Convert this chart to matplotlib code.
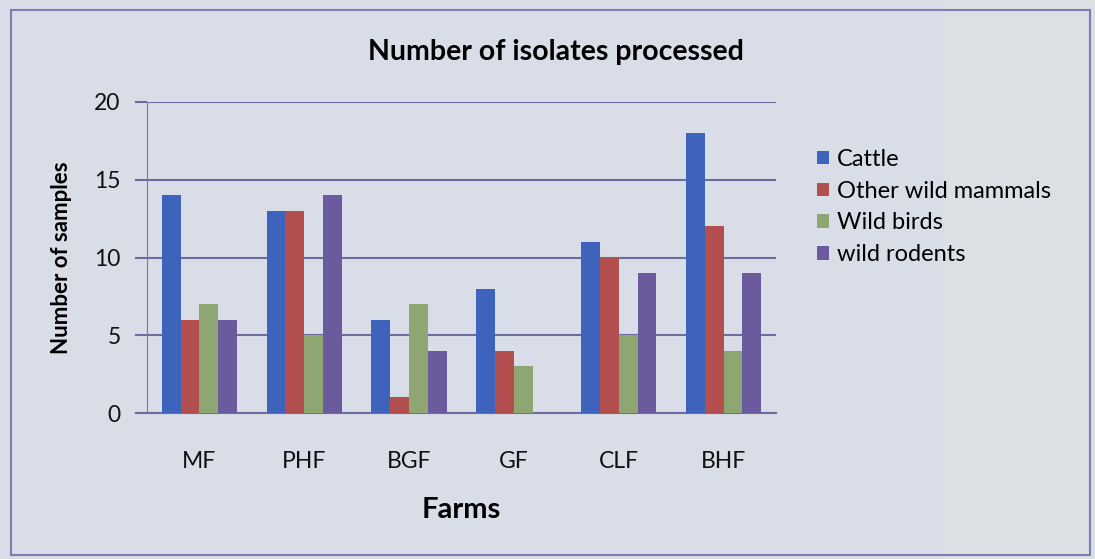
import numpy as np
import matplotlib.pyplot as plt
from matplotlib.patches import Rectangle

# isolates per farm and host group
farms = ['MF', 'PHF', 'BGF', 'GF', 'CLF', 'BHF']
cattle = [14, 13, 6, 8, 11, 18]
other_wild_mammals = [6, 13, 1, 4, 10, 12]
wild_birds = [7, 5, 7, 3, 5, 4]
wild_rodents = [6, 14, 4, 0, 9, 9]

series = [
    ('Cattle', cattle, '#3e63bd'),
    ('Other wild mammals', other_wild_mammals, '#b34f4e'),
    ('Wild birds', wild_birds, '#8ea772'),
    ('wild rodents', wild_rodents, '#6a5b9f'),
]

plt.rcParams['font.family'] = ['Lato', 'DejaVu Sans']

fig = plt.figure(figsize=(10.95, 5.59), dpi=100)
fig.patch.set_facecolor('#d9dde7')

# slightly lighter paper on the right edge
fig.patches.append(Rectangle((0.862, 0), 0.138, 1, transform=fig.transFigure,
                             facecolor='#dce0e4', edgecolor='none', zorder=-1))
# chart frame
fig.patches.append(Rectangle((11 / 1095, 4 / 559), 1079 / 1095, 545 / 559,
                             transform=fig.transFigure, facecolor='none',
                             edgecolor='#7b7fb2', linewidth=1.5, zorder=-1))

ax = fig.add_axes([147 / 1095, 1 - 413 / 559, 629 / 1095, 311 / 559])
ax.set_facecolor('none')
ax.set_zorder(2)

x = np.arange(len(farms))
w = 0.18
for i, (name, vals, col) in enumerate(series):
    ax.bar(x + (i - 1.5) * w, vals, width=w, color=col, label=name, zorder=3)

ax.set_xlim(-0.5, len(farms) - 0.5)
ax.set_ylim(0, 20)
ax.set_yticks([0, 5, 10, 15, 20])
ax.yaxis.grid(True, color='#6c6c9e', linewidth=1.5, zorder=1)
ax.set_axisbelow(True)

for s in ['top', 'right']:
    ax.spines[s].set_visible(False)
ax.spines['left'].set_color('#7a7aa8')
ax.spines['bottom'].set_color('#6c6c9e')
ax.spines['bottom'].set_linewidth(1.5)
ax.spines['bottom'].set_bounds(-0.57, len(farms) - 0.5)

ax.set_xticks(x)
ax.set_xticklabels(farms)
ax.tick_params(axis='x', length=0, pad=27, labelsize=16.5, colors='#111111')
ax.tick_params(axis='y', length=9, width=1.5, color='#6c6c9e', pad=10,
               labelsize=16.5, labelcolor='#111111')

ax.set_title('Number of isolates processed', fontsize=20.5, fontweight='bold',
             pad=30, x=0.65)
ax.set_xlabel('Farms', fontsize=21, fontweight='bold', labelpad=18)
ax.set_ylabel('Number of samples', fontsize=16, fontweight='bold', labelpad=16)

ax.legend(loc='upper left', bbox_to_anchor=(1.05, 0.88), frameon=False,
          fontsize=17, handlelength=0.5, handleheight=0.5, handletextpad=0.35,
          labelspacing=0.46, borderaxespad=0)

fig.savefig('out.png', dpi=100, facecolor=fig.get_facecolor())
